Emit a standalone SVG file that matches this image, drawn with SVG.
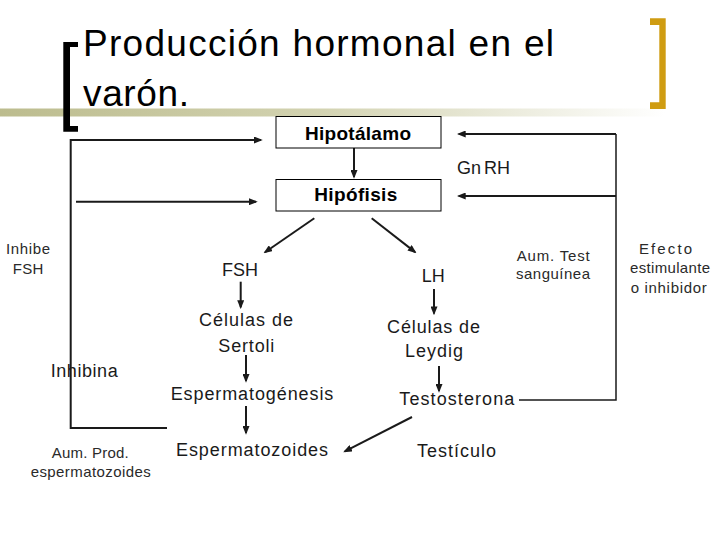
<svg xmlns="http://www.w3.org/2000/svg" width="720" height="540" viewBox="0 0 720 540">
<style>
text{font-family:"Liberation Sans",Arial,sans-serif;fill:#1a1a1a}
.title{font-size:37px;fill:#000}
.box{fill:#fff;stroke:#000;stroke-width:1}
.bl{font-size:19px;font-weight:bold;fill:#000}
.lbl{font-size:18px}
.sm{font-size:15px;fill:#2a2a2a}
.arr{fill:none;stroke:#1a1a1a;stroke-width:2;marker-end:url(#ah)}
.ln{fill:none;stroke:#1a1a1a;stroke-width:1.5}
</style>
<defs>
<linearGradient id="olive" x1="0" y1="0" x2="700" y2="0" gradientUnits="userSpaceOnUse">
<stop offset="0" stop-color="#bcbc8e"/>
<stop offset="0.45" stop-color="#d2d2b0"/>
<stop offset="0.95" stop-color="#ffffff"/>
</linearGradient>
<marker id="ah" viewBox="0 0 10 8" refX="8" refY="4" markerWidth="9" markerHeight="7" markerUnits="userSpaceOnUse" orient="auto">
<path d="M0,0 L10,4 L0,8 z" fill="#1a1a1a"/>
</marker>
</defs>

<g id="header">
<rect x="0" y="108.5" width="700" height="8" fill="url(#olive)"/>
<path d="M78,42 H63.3 V131.7 H78 V126 H70 V47 H78 z" fill="#000"/>
<path d="M650,18.3 H665.7 V109 H650 V102.3 H659.3 V25 H650 z" fill="#cf9c12"/>
<text class="title" x="83" y="56" textLength="471">Producción hormonal en el</text>
<text class="title" x="83" y="106" textLength="106">varón.</text>
</g>

<g id="connectors">
<polyline class="arr" points="167,428 70.7,428 70.7,140 261,140"/>
<line class="arr" x1="76" y1="201.7" x2="256" y2="201.7"/>
<polyline class="ln" points="519,400 616,400 616,134"/>
<line class="arr" x1="616" y1="134" x2="458.7" y2="134"/>
<line class="arr" x1="616" y1="196" x2="458.7" y2="196"/>
<line class="arr" x1="354" y1="148" x2="354" y2="177"/>
<line class="arr" x1="314.3" y1="218.3" x2="265" y2="252.2"/>
<line class="arr" x1="371.7" y1="218.3" x2="415.1" y2="252.1"/>
<line class="arr" x1="240.7" y1="281.7" x2="240.7" y2="307.3"/>
<line class="arr" x1="434" y1="289" x2="434" y2="313.5"/>
<line class="arr" x1="246" y1="355" x2="246" y2="381"/>
<line class="arr" x1="246" y1="406" x2="246" y2="433"/>
<line class="arr" x1="439" y1="366" x2="439" y2="391"/>
<line class="arr" x1="412" y1="417" x2="344.8" y2="451.4"/>
</g>

<g id="hipotalamo">
<rect class="box" x="276" y="116.5" width="165" height="31.5"/>
<text class="bl" x="305" y="140" textLength="106">Hipotálamo</text>
</g>
<g id="hipofisis">
<rect class="box" x="276" y="179.5" width="165" height="31.5"/>
<text class="bl" x="314.3" y="200.7" textLength="83">Hipófisis</text>
</g>
<g id="gnrh"><text class="lbl" x="457" y="174">Gn<tspan dx="3">RH</tspan></text></g>
<g id="fsh"><text class="lbl" x="222" y="275.7" textLength="36">FSH</text></g>
<g id="lh"><text class="lbl" x="421.7" y="281.7" textLength="23">LH</text></g>
<g id="sertoli">
<text class="lbl" x="199" y="326" textLength="94">Células de</text>
<text class="lbl" x="218.3" y="351.7" textLength="56">Sertoli</text>
</g>
<g id="leydig">
<text class="lbl" x="387" y="332.7" textLength="93">Células de</text>
<text class="lbl" x="405" y="356.7" textLength="58">Leydig</text>
</g>
<g id="espermatogenesis"><text class="lbl" x="170.7" y="400" textLength="162.6">Espermatogénesis</text></g>
<g id="espermatozoides"><text class="lbl" x="176" y="456" textLength="152">Espermatozoides</text></g>
<g id="testosterona"><text class="lbl" x="399.3" y="405" textLength="115">Testosterona</text></g>
<g id="testiculo"><text class="lbl" x="417" y="456.7" textLength="79">Testículo</text></g>
<g id="inhibina"><text class="lbl" x="50.7" y="377" textLength="67">Inhibina</text></g>
<g id="inhibe">
<text class="sm" x="6" y="254" textLength="44">Inhibe</text>
<text class="sm" x="12.7" y="274" textLength="30.6">FSH</text>
</g>
<g id="aumprod">
<text class="sm" x="51.7" y="458.3" textLength="77">Aum. Prod.</text>
<text class="sm" x="30.7" y="476.5" textLength="120">espermatozoides</text>
</g>
<g id="aumtest">
<text class="sm" x="516.7" y="260.7" textLength="73">Aum. Test</text>
<text class="sm" x="516" y="279.3" textLength="74">sanguínea</text>
</g>
<g id="efecto">
<text class="sm" x="639" y="254" textLength="53">Efecto</text>
<text class="sm" x="630" y="273.3" textLength="80">estimulante</text>
<text class="sm" x="630.7" y="293.3" textLength="76">o inhibidor</text>
</g>
</svg>
